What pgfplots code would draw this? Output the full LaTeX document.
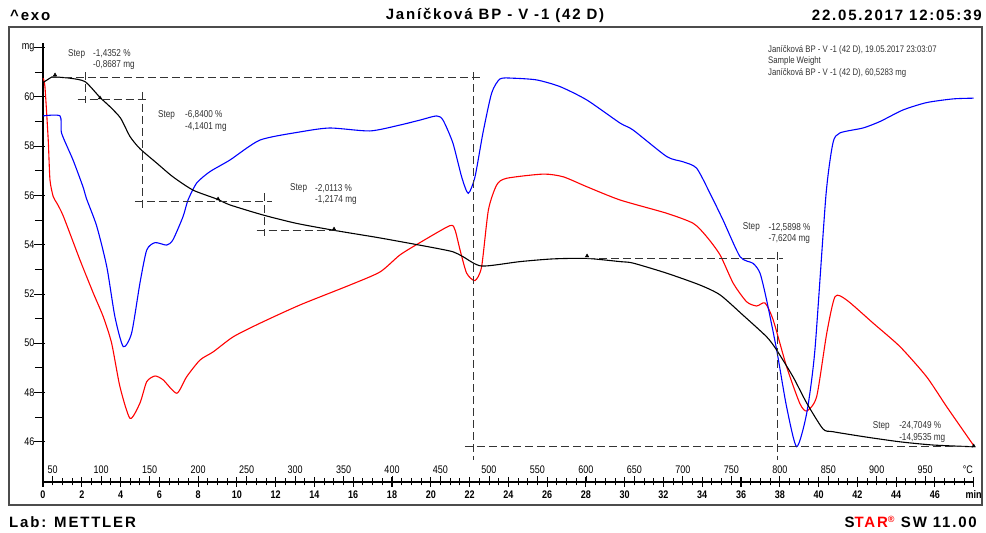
\documentclass[border=0pt]{standalone}
\usepackage{fontspec}
\setmainfont{Liberation Sans}
\newfontfamily\hdr[LetterSpace=12]{Liberation Sans}
\newfontfamily\nar[FakeStretch=0.82]{Liberation Sans}
\usepackage{pgfplots}
\pgfplotsset{compat=1.18}
\definecolor{dgray}{gray}{0.2}
\begin{document}
\begin{tikzpicture}
\path[use as bounding box] (-43pt,-51pt) rectangle (943pt,482pt);
\draw[line width=1.3pt, black!70] (-34pt,-23pt) rectangle (939pt,455pt);
\begin{scope}[every node/.style={inner sep=0pt, font=\hdr\bfseries\fontsize{15}{18}\selectfont}]
\node[anchor=west] at (-33pt,467pt) {\textasciicircum exo};
\node at (452pt,467pt) {Janíčková BP - V -1 (42 D)};
\node[anchor=east] at (939pt,467pt) {22.05.2017 12:05:39};
\node[anchor=west] at (-34pt,-40pt) {Lab: METTLER};
\node[anchor=east] at (934pt,-40pt) {S\textcolor{red}{TAR}\textsuperscript{\textcolor{red}{\fontsize{9}{10}\selectfont ®}} SW 11.00};
\end{scope}
\begin{axis}[
  at={(0pt,0pt)}, anchor=south west, scale only axis,
  width=930.7pt, height=439.3pt,
  xmin=0, xmax=48, ymin=44.37, ymax=62.19,
  clip=false,
  axis x line*=bottom, axis y line*=left,
  axis line style={-, line width=1.2pt},
  tick align=center,
  major tick length=10pt, minor tick length=7pt,
  xtick={0,2,...,48},
  xticklabels={0,2,4,6,8,10,12,14,16,18,20,22,24,26,28,30,32,34,36,38,40,42,44,46,min},
  minor x tick num=3,
  xtick style={line width=1.1pt, black},
  minor x tick style={line width=0.9pt, black},
  ytick={46,48,...,62},
  yticklabels={46,48,50,52,54,56,58,60,mg},
  minor y tick num=1,
  ytick style={line width=0.8pt, black, xshift=-3.5pt},
  minor y tick style={xshift=-1pt},
  xticklabel style={font=\nar\bfseries\fontsize{11}{13}\selectfont},
  yticklabel style={font=\nar\fontsize{11}{13}\selectfont},
  extra x ticks={0.5,3,5.5,8,10.5,13,15.5,18,20.5,23,25.5,28,30.5,33,35.5,38,40.5,43,45.5},
  extra x tick labels={},
  extra x tick style={tick align=inside, major tick length=6pt, xtick style={line width=0.8pt}},
]
% red signal
\addplot[red, line width=1.1pt, smooth, tension=0.4] coordinates {
(0,60.75) (0.10,60.41) (0.27,58.24) (0.36,56.62) (0.53,55.94) (0.71,55.69) (1.05,55.15) (1.91,53.37) (2.59,52.04) (3.11,51.07) (3.54,50.00) (3.97,48.23) (4.49,46.95) (5.00,47.57) (5.35,48.44) (5.78,48.67) (6.20,48.51) (6.90,47.97) (7.41,48.64) (8.10,49.32) (8.78,49.65) (9.81,50.26) (11.19,50.81) (13.25,51.55) (15.83,52.36) (17.38,52.89) (18.41,53.58) (19.44,54.08) (20.99,54.77) (21.25,54.59) (21.51,53.78) (21.85,52.84) (22.28,52.54) (22.62,53.10) (22.97,55.40) (23.40,56.42) (23.91,56.69) (25.80,56.86) (26.83,56.75) (28.04,56.35) (29.76,55.81) (32.17,55.27) (33.54,54.86) (34.23,54.32) (34.92,53.58) (35.60,52.43) (36.29,51.68) (36.81,51.51) (37.24,51.63) (37.66,50.94) (38.35,49.05) (39.03,47.56) (39.39,47.25) (39.90,47.83) (40.42,50.40) (40.85,51.89) (41.45,51.75) (42.82,50.81) (44.20,49.86) (45.57,48.64) (46.61,47.42) (47.98,45.87)};
% blue signal
\addplot[blue, line width=1.1pt, smooth, tension=0.4] coordinates {
(0,59.22) (0.88,59.22) (0.96,58.52) (1.55,57.43) (2.06,56.35) (2.25,55.85) (2.77,54.75) (3.29,53.10) (3.71,51.07) (4.14,49.86) (4.57,50.41) (5.00,52.44) (5.35,53.78) (5.78,54.08) (6.38,53.98) (6.70,54.19) (7.22,55.13) (7.48,55.81) (7.93,56.50) (8.61,56.96) (9.64,57.43) (11.19,58.24) (13.25,58.57) (14.80,58.73) (16.86,58.61) (18.41,58.85) (19.44,59.05) (20.30,59.22) (20.63,59.05) (21.14,58.12) (21.59,56.75) (21.93,56.08) (22.28,56.75) (22.69,58.53) (23.14,60.15) (23.57,60.72) (24.24,60.75) (25.46,60.68) (26.66,60.41) (28.04,59.87) (29.76,58.93) (30.43,58.65) (32.17,57.57) (33.01,57.36) (33.71,57.10) (34.40,56.08) (35.07,55.00) (35.95,53.51) (36.62,53.24) (36.98,52.84) (37.32,51.75) (37.84,49.72) (38.35,47.42) (38.87,45.80) (39.39,47.17) (39.81,49.72) (40.38,56.00) (40.74,58.12) (41.10,58.53) (42.29,58.73) (43.16,58.99) (44.35,59.46) (45.57,59.76) (46.93,59.91) (48,59.94)};
% TGA curve
\addplot[black, line width=1.1pt, smooth, tension=0.4] coordinates {
(0,60.57) (0.46,60.80) (0.62,60.80) (1.39,60.75) (2.17,60.61) (2.94,59.97) (3.46,59.59) (4.00,59.13) (4.49,58.38) (5.00,57.89) (5.86,57.31) (6.70,56.75) (7.74,56.21) (8.96,55.85) (9.64,55.61) (11.35,55.20) (13.08,54.86) (15.15,54.56) (17.38,54.27) (19.96,53.90) (21.14,53.71) (21.66,53.51) (22.62,53.13) (24.60,53.31) (26.30,53.42) (28.04,53.44) (29.76,53.31) (30.43,53.25) (32.17,52.84) (33.88,52.36) (34.92,51.96) (36.10,51.14) (37.32,50.26) (37.84,49.72) (38.68,48.64) (39.39,47.57) (40.23,46.52) (40.74,46.41) (42.48,46.19) (44.20,46.00) (45.90,45.87) (47.96,45.80)};
% step evaluation lines
\addplot[dgray, line width=0.9pt, dash pattern=on 8pt off 4pt] coordinates {(0.46,60.80) (22.64,60.80)};
\addplot[dgray, line width=0.9pt, dash pattern=on 8pt off 4pt] coordinates {(22.20,61.00) (22.20,45.26)};
\addplot[dgray, line width=0.9pt, dash pattern=on 8pt off 4pt] coordinates {(2.17,61.00) (2.17,59.74)};
\addplot[dgray, line width=0.9pt, dash pattern=on 8pt off 4pt] coordinates {(1.79,59.89) (5.47,59.89)};
\addplot[dgray, line width=0.9pt, dash pattern=on 8pt off 4pt] coordinates {(5.14,60.20) (5.14,55.40)};
\addplot[dgray, line width=0.9pt, dash pattern=on 8pt off 4pt] coordinates {(4.74,55.74) (11.79,55.74)};
\addplot[dgray, line width=0.9pt, dash pattern=on 8pt off 4pt] coordinates {(11.40,56.09) (11.40,54.35)};
\addplot[dgray, line width=0.9pt, dash pattern=on 8pt off 4pt] coordinates {(11.02,54.56) (15.15,54.56)};
\addplot[dgray, line width=0.9pt, dash pattern=on 8pt off 4pt] coordinates {(28.06,53.44) (38.16,53.44)};
\addplot[dgray, line width=0.9pt, dash pattern=on 8pt off 4pt] coordinates {(37.88,53.71) (37.88,45.26)};
\addplot[dgray, line width=0.9pt, dash pattern=on 8pt off 4pt] coordinates {(21.76,45.81) (48.0,45.81)};
% step markers
\addplot[black, only marks, mark=triangle*, mark size=2pt] coordinates {(0.62,60.88) (2.94,59.95) (9.03,55.85) (15.01,54.63) (28.06,53.54) (48.0,45.83)};
% temperature labels
\begin{scope}[every node/.style={font=\nar\fontsize{11}{13}\selectfont, inner sep=0pt}]
\node at (axis cs:0.5,44.37) [yshift=12pt] {50};
\node at (axis cs:3,44.37) [yshift=12pt] {100};
\node at (axis cs:5.5,44.37) [yshift=12pt] {150};
\node at (axis cs:8,44.37) [yshift=12pt] {200};
\node at (axis cs:10.5,44.37) [yshift=12pt] {250};
\node at (axis cs:13,44.37) [yshift=12pt] {300};
\node at (axis cs:15.5,44.37) [yshift=12pt] {350};
\node at (axis cs:18,44.37) [yshift=12pt] {400};
\node at (axis cs:20.5,44.37) [yshift=12pt] {450};
\node at (axis cs:23,44.37) [yshift=12pt] {500};
\node at (axis cs:25.5,44.37) [yshift=12pt] {550};
\node at (axis cs:28,44.37) [yshift=12pt] {600};
\node at (axis cs:30.5,44.37) [yshift=12pt] {650};
\node at (axis cs:33,44.37) [yshift=12pt] {700};
\node at (axis cs:35.5,44.37) [yshift=12pt] {750};
\node at (axis cs:38,44.37) [yshift=12pt] {800};
\node at (axis cs:40.5,44.37) [yshift=12pt] {850};
\node at (axis cs:43,44.37) [yshift=12pt] {900};
\node at (axis cs:45.5,44.37) [yshift=12pt] {950};
\node at (axis cs:47.7,44.37) [yshift=12pt] {°C};
\end{scope}
% annotations
\begin{scope}[every node/.style={font=\nar\fontsize{10}{12}\selectfont, inner sep=0pt, anchor=west, text=dgray}]
\node at (axis cs:1.29,61.73) {Step};
\node at (axis cs:2.58,61.73) {-1,4352 \%};
\node at (axis cs:2.58,61.27) {-0,8687 mg};
\node at (axis cs:5.93,59.26) {Step};
\node at (axis cs:7.32,59.26) {-6,8400 \%};
\node at (axis cs:7.32,58.77) {-4,1401 mg};
\node at (axis cs:12.74,56.28) {Step};
\node at (axis cs:14.03,56.28) {-2,0113 \%};
\node at (axis cs:14.03,55.81) {-1,2174 mg};
\node at (axis cs:36.09,54.70) {Step};
\node at (axis cs:37.41,54.70) {-12,5898 \%};
\node at (axis cs:37.41,54.21) {-7,6204 mg};
\node at (axis cs:42.79,46.65) {Step};
\node at (axis cs:44.15,46.65) {-24,7049 \%};
\node at (axis cs:44.15,46.14) {-14,9535 mg};
\end{scope}
\begin{scope}[every node/.style={font=\nar\fontsize{9.5}{11}\selectfont, inner sep=0pt, anchor=west, text=dgray}]
\node at (axis cs:37.39,61.89) {Janíčková BP - V -1 (42 D), 19.05.2017 23:03:07};
\node at (axis cs:37.39,61.43) {Sample Weight};
\node at (axis cs:37.39,60.96) {Janíčková BP - V -1 (42 D), 60,5283 mg};
\end{scope}
\end{axis}
\end{tikzpicture}
\end{document}
